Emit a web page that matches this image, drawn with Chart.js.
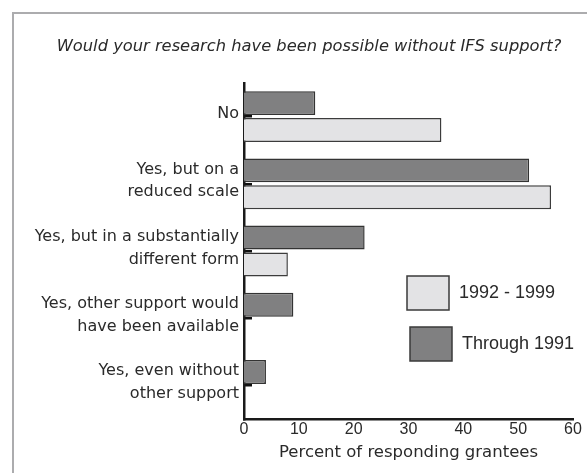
<!DOCTYPE html>
<html>
<head>
<meta charset="utf-8">
<script src="https://cdn.jsdelivr.net/npm/chart.js@4.4.0/dist/chart.umd.min.js"></script>
<style>
  html, body { margin: 0; padding: 0; background: #fff; }
  #wrap { position: relative; width: 587px; height: 473px; }
  #frame { position: absolute; left: 12px; top: 12px; width: 600px; height: 500px;
           border-left: 2px solid #acacae; border-top: 2px solid #acacae; }
  canvas { position: absolute; left: 0; top: 0; }
</style>
</head>
<body>
<div id="wrap">
  <div id="frame"></div>
  <canvas id="chart" width="587" height="473"></canvas>
</div>
<script>
const categories = [
  'No',
  ['Yes, but on a', 'reduced scale'],
  ['Yes, but in a substantially', 'different form'],
  ['Yes, other support would', 'have been available'],
  ['Yes, even without', 'other support']
];
const through1991 = [13, 52, 22, 9, 4];
const from1992 = [36, 56, 8, 0, 0];
const xTicks = [0, 10, 20, 30, 40, 50, 60];

const chartTitle = 'Would your research have been possible without IFS support?';
const axisTitle = 'Percent of responding grantees';

const darkFill = '#808081';
const lightFill = '#e3e3e5';
const textColor = '#2a2a2a';
const wideFont = '"DejaVu Sans", Verdana, sans-serif';
const plainFont = '"Liberation Sans", Arial, sans-serif';

// title + boxed legend drawn on the canvas
const extras = {
  id: 'extras',
  afterDraw(chart) {
    const ctx = chart.ctx;
    ctx.save();
    ctx.fillStyle = textColor;
    ctx.font = 'oblique 16.3px ' + wideFont;
    ctx.textAlign = 'center';
    ctx.textBaseline = 'middle';
    ctx.fillText(chartTitle, 309, 47);

    // legend, listed in the reference's order
    const items = [
      { label: chart.data.datasets[1].label, fill: lightFill, x: 407, y: 276 },
      { label: chart.data.datasets[0].label, fill: darkFill, x: 410, y: 327 }
    ];
    ctx.font = '18px ' + plainFont;
    ctx.textAlign = 'left';
    items.forEach(it => {
      ctx.fillStyle = it.fill;
      ctx.fillRect(it.x, it.y, 42, 34);
      ctx.lineWidth = 1.5;
      ctx.strokeStyle = '#3a3a3a';
      ctx.strokeRect(it.x, it.y, 42, 34);
      ctx.fillStyle = textColor;
      ctx.fillText(it.label, it.x + 52, it.y + 17);
    });
    ctx.restore();
  }
};

new Chart(document.getElementById('chart'), {
  type: 'bar',
  data: {
    labels: categories,
    datasets: [
      {
        label: 'Through 1991',
        data: through1991,
        backgroundColor: darkFill,
        borderColor: '#333',
        borderWidth: 1.5,
        categoryPercentage: 0.8,
        barPercentage: 0.89
      },
      {
        label: '1992 - 1999',
        data: from1992,
        backgroundColor: lightFill,
        borderColor: '#3c3c3c',
        borderWidth: 1.5,
        categoryPercentage: 0.8,
        barPercentage: 0.89
      }
    ]
  },
  options: {
    indexAxis: 'y',
    responsive: false,
    animation: false,
    events: [],
    layout: { padding: { left: 0, right: 14, top: 83, bottom: 0 } },
    plugins: {
      legend: { display: false },
      title: { display: false },
      tooltip: { enabled: false }
    },
    scales: {
      x: {
        min: 0,
        max: 60,
        afterBuildTicks: (scale) => { scale.ticks = xTicks.map(v => ({ value: v })); },
        afterFit: (scale) => { scale.height = 54; },
        grid: { display: false, drawTicks: false },
        border: { display: true, color: '#1a1a1a', width: 2.5 },
        ticks: {
          padding: 1,
          color: textColor,
          font: { family: plainFont, size: 16 }
        },
        title: {
          display: true,
          text: axisTitle,
          color: textColor,
          padding: { top: 0, bottom: 10 },
          font: { family: wideFont, size: 16.5 }
        }
      },
      y: {
        afterFit: (scale) => { scale.width = 244; },
        grid: {
          display: true,
          offset: false,
          drawOnChartArea: false,
          drawTicks: true,
          tickLength: -8,
          color: '#111',
          lineWidth: 2.5
        },
        border: { display: true, color: '#1a1a1a', width: 2.5 },
        ticks: {
          padding: 13,
          labelOffset: -3,
          color: textColor,
          font: { family: wideFont, size: 16, lineHeight: 1.42 }
        }
      }
    }
  },
  plugins: [extras]
});
</script>
</body>
</html>
